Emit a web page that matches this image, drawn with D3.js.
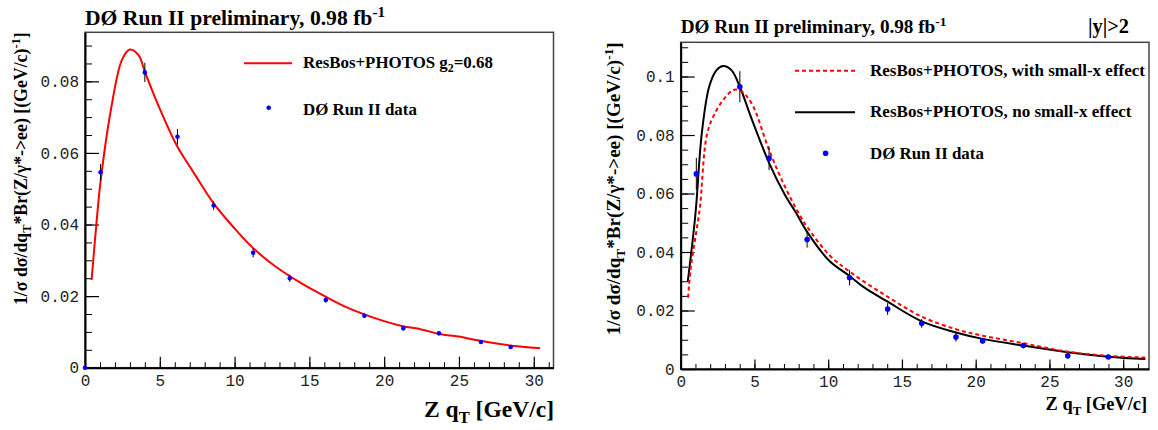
<!DOCTYPE html>
<html>
<head>
<meta charset="utf-8">
<script src="https://cdn.jsdelivr.net/npm/d3@7"></script>
<style>
  body { margin: 0; background: #fff; }
  svg { display: block; }
  .lbl { font-family: "Liberation Serif", "Times New Roman", serif; font-weight: bold; fill: #000; }
  .tick text { font-family: "Liberation Mono", "Courier New", monospace; fill: #222; }
</style>
</head>
<body>
<div id="chart"></div>
<script>
// ---- data ----
// left panel: inclusive qT
const leftX   = [0, 1.04, 4.0, 6.18, 8.6, 11.24, 13.69, 16.1, 18.68, 21.28, 23.66, 26.47, 28.46];
const leftY   = [0, 0.0546, 0.0825, 0.0645, 0.0453, 0.0321, 0.0250, 0.0189, 0.0145, 0.0110, 0.0096, 0.0072, 0.0058];
const leftErr = [0, 0.0023, 0.0027, 0.0022, 0.0012, 0.0013, 0.0010, 0.0007, 0.0006, 0.0005, 0.0005, 0.0004, 0.0004];

const resbosX = [0.44, 0.8, 1.04, 1.73, 2.47, 3.0, 3.58, 4.0, 4.94, 6.18, 7.16, 8.6, 10.0, 11.24, 12.6, 14.45, 16.1, 17.54, 20.0, 21.25, 22.48, 23.7, 24.95, 26.43, 28.43, 29.9, 30.43];
const resbosY = [0.0245, 0.042, 0.052, 0.072, 0.0860, 0.0889, 0.0873, 0.0827, 0.0729, 0.0617, 0.0552, 0.0459, 0.0389, 0.0334, 0.0287, 0.0236, 0.0198, 0.0168, 0.0130, 0.0116, 0.0107, 0.0094, 0.0087, 0.0075, 0.0062, 0.0056, 0.0054];

// right panel: |y|>2
const rightX   = [1.06, 4.01, 5.99, 8.57, 11.45, 14.03, 16.34, 18.66, 20.47, 23.23, 26.24, 28.99];
const rightY   = [0.0667, 0.0965, 0.0720, 0.0443, 0.0312, 0.0205, 0.0156, 0.0109, 0.0096, 0.0080, 0.0045, 0.0041];
const rightErr = [0.0055, 0.0053, 0.0040, 0.0028, 0.0026, 0.0020, 0.0015, 0.0015, 0.0010, 0.0008, 0.0008, 0.0006];

const smallxX = [0.5, 0.68, 1.06, 1.31, 1.8, 2.43, 3.06, 3.56, 4.06, 4.81, 5.99, 7.07, 8.07, 8.57, 10.07, 11.45, 14.03, 16.34, 18.66, 20.47, 23.23, 26.24, 28.99, 31.5];
const smallxY = [0.0244, 0.0345, 0.047, 0.0555, 0.0806, 0.0885, 0.0931, 0.0954, 0.0951, 0.0908, 0.0749, 0.0623, 0.0526, 0.0486, 0.0390, 0.0333, 0.0247, 0.0179, 0.0136, 0.0114, 0.0088, 0.0059, 0.0045, 0.0039];

const nosmallxX = [0.48, 1.0, 1.43, 1.93, 2.43, 2.88, 3.44, 4.01, 4.81, 5.99, 7.07, 7.82, 8.57, 10.07, 11.45, 12.46, 14.03, 16.34, 18.66, 20.47, 23.23, 26.24, 28.99, 31.5];
const nosmallxY = [0.0299, 0.053, 0.0806, 0.0965, 0.1022, 0.1036, 0.1022, 0.0965, 0.0855, 0.0705, 0.0595, 0.0534, 0.0469, 0.0370, 0.0318, 0.0278, 0.0230, 0.0163, 0.0125, 0.0103, 0.0080, 0.0057, 0.0042, 0.0034];

// ticks
const xTicks      = [0, 5, 10, 15, 20, 25, 30];
const leftYTicks  = [0, 0.02, 0.04, 0.06, 0.08];
const rightYTicks = [0, 0.02, 0.04, 0.06, 0.08, 0.1];

const zip = (xs, ys, es) => xs.map((x, i) => ({x: x, y: ys[i], e: es ? es[i] : 0}));

const svg = d3.select("#chart").append("svg")
  .attr("width", 1158)
  .attr("height", 430);

// shrink/grow a text so that it covers the given width
function fit(t, w) {
  const fs = parseFloat(t.attr("font-size"));
  const len = t.node().getComputedTextLength();
  t.attr("font-size", (fs * w / len).toFixed(2));
  return t;
}

// text with pieces: [string, "sub"|"sup"|"backsub"|"backsup"|undefined]
function richText(g, parts, size) {
  const t = g.append("text").attr("class", "lbl").attr("font-size", size);
  parts.forEach(p => {
    const s = t.append("tspan").text(p[0]);
    if (p[1] === "sub") s.attr("font-size", "0.7em").attr("dy", "0.35em");
    if (p[1] === "sup") s.attr("font-size", "0.7em").attr("dy", "-0.55em");
    if (p[1] === "backsub") s.attr("dy", "-0.245em");
    if (p[1] === "backsup") s.attr("dy", "0.385em");
  });
  return t;
}

function panel(p) {
  const x = d3.scaleLinear().domain([0, p.xMax]).range([p.left, p.right]);
  const y = d3.scaleLinear().domain([0, p.yMax]).range([p.bottom, p.top]);
  const g = svg.append("g");

  // frame
  g.append("rect")
    .attr("x", p.left).attr("y", p.top)
    .attr("width", p.right - p.left).attr("height", p.bottom - p.top)
    .attr("fill", "none").attr("stroke", "#444").attr("stroke-width", 1.5);

  const clipId = "clip" + p.id;
  svg.append("clipPath").attr("id", clipId).append("rect")
    .attr("x", p.left).attr("y", p.top)
    .attr("width", p.right - p.left).attr("height", p.bottom - p.top);

  // minor ticks
  const xMinor = d3.range(0, p.xMax, 1);
  const yMinor = d3.range(0, p.yMax, 0.005);
  g.append("g").attr("transform", `translate(0,${p.bottom})`)
    .call(d3.axisBottom(x).tickValues(xMinor).tickSize(-p.xMinorLen).tickFormat("").tickSizeOuter(0))
    .call(a => a.select(".domain").remove());
  g.append("g").attr("transform", `translate(${p.left},0)`)
    .call(d3.axisLeft(y).tickValues(yMinor).tickSize(-p.yMinorLen).tickFormat("").tickSizeOuter(0))
    .call(a => a.select(".domain").remove());

  // major ticks + labels
  const xa = g.append("g").attr("transform", `translate(0,${p.bottom})`)
    .call(d3.axisBottom(x).tickValues(xTicks).tickSize(-p.xMajorLen).tickPadding(p.xPad)
      .tickFormat(d3.format("d")).tickSizeOuter(0));
  const ya = g.append("g").attr("transform", `translate(${p.left},0)`)
    .call(d3.axisLeft(y).tickValues(p.yTicks).tickSize(-p.yMajorLen).tickPadding(6)
      .tickFormat(d => d === 0 ? "0" : String(+d.toFixed(2))).tickSizeOuter(0));
  [xa, ya].forEach(a => {
    a.selectAll(".tick text").attr("font-size", 16).attr("font-family", null);
    a.selectAll(".tick line").attr("stroke", "#000").attr("stroke-width", 1.2);
    a.select(".domain").attr("stroke", "#000").attr("stroke-width", 2);
  });
  xa.selectAll(".tick text").attr("dy", "0.82em");

  // curves
  const line = d3.line().x(d => x(d.x)).y(d => y(d.y)).curve(d3.curveCatmullRom.alpha(0.5));
  const cg = g.append("g").attr("clip-path", `url(#${clipId})`);
  p.curves.forEach(c => {
    cg.append("path")
      .datum(zip(c.xs, c.ys))
      .attr("fill", "none")
      .attr("stroke", c.color)
      .attr("stroke-width", 2)
      .attr("stroke-dasharray", c.dash || null)
      .attr("d", line);
  });

  // data points with error bars
  const pts = zip(p.dataX, p.dataY, p.dataErr);
  cg.selectAll("line.err").data(pts.filter(d => d.e > 0)).enter()
    .append("line").attr("class", "err")
    .attr("x1", d => x(d.x)).attr("x2", d => x(d.x))
    .attr("y1", d => y(d.y - d.e)).attr("y2", d => y(d.y + d.e))
    .attr("stroke", "#000").attr("stroke-width", 1);
  g.selectAll("circle.pt").data(pts).enter()
    .append("circle").attr("class", "pt")
    .attr("cx", d => x(d.x)).attr("cy", d => y(d.y))
    .attr("r", p.r).attr("fill", "#0000ff");

  // title
  const title = richText(g, [["DØ Run II preliminary, 0.98 fb"], ["-1", "sup"]], 18)
    .attr("x", p.left).attr("y", p.titleY);
  fit(title, p.titleW);

  // axis titles
  const xt = richText(g, [["Z q"], ["T", "sub"], [" [GeV/c]", "backsub"]], 20)
    .attr("text-anchor", "end").attr("x", p.xTitleEnd).attr("y", p.xTitleY);
  fit(xt, p.xTitleW);

  const yt = richText(g, [["1/σ dσ/dq"], ["T", "sub"], ["*Br(Z/γ*->ee) [(GeV/c)", "backsub"], ["-1", "sup"], ["]", "backsup"]], 18)
    .attr("text-anchor", "end")
    .attr("transform", `translate(${p.yTitleX},${p.top}) rotate(-90)`);
  fit(yt, p.yTitleW);

  // legend
  p.legend.forEach(l => {
    if (l.kind === "line") {
      g.append("line")
        .attr("x1", l.x1).attr("x2", l.x2).attr("y1", l.y).attr("y2", l.y)
        .attr("stroke", l.color).attr("stroke-width", 2)
        .attr("stroke-dasharray", l.dash || null);
    } else {
      g.append("circle").attr("cx", l.cx).attr("cy", l.y).attr("r", p.r).attr("fill", "#0000ff");
    }
    const t = richText(g, l.text, 16).attr("x", l.tx).attr("y", l.ty);
    fit(t, l.tw);
  });

  return g;
}

panel({
  id: "L", left: 85, right: 553.5, top: 32.3, bottom: 367.7,
  xMax: 31.32, yMax: 0.0937, yTicks: leftYTicks,
  xMajorLen: 11, xMinorLen: 5.5, yMajorLen: 14, yMinorLen: 7, xPad: 5,
  r: 2.3,
  dataX: leftX, dataY: leftY, dataErr: leftErr,
  curves: [{xs: resbosX, ys: resbosY, color: "#ff0000"}],
  titleY: 25, titleW: 300,
  xTitleEnd: 554, xTitleY: 417, xTitleW: 130,
  yTitleX: 27, yTitleW: 273,
  legend: [
    {kind: "line", x1: 244, x2: 292, y: 63.3, color: "#ff0000",
     text: [["ResBos+PHOTOS g"], ["2", "sub"], ["=0.68", "backsub"]], tx: 303, ty: 67.7, tw: 190},
    {kind: "dot", cx: 268.7, y: 107.7,
     text: [["DØ Run II data"]], tx: 303, ty: 115, tw: 114}
  ]
});

const R = panel({
  id: "R", left: 680.7, right: 1149, top: 42.3, bottom: 369,
  xMax: 31.75, yMax: 0.1117, yTicks: rightYTicks,
  xMajorLen: 9.5, xMinorLen: 5, yMajorLen: 14, yMinorLen: 7.5, xPad: 5,
  r: 2.8,
  dataX: rightX, dataY: rightY, dataErr: rightErr,
  curves: [
    {xs: nosmallxX, ys: nosmallxY, color: "#000"},
    {xs: smallxX, ys: smallxY, color: "#ff0000", dash: "4,3"}
  ],
  titleY: 33, titleW: 266,
  xTitleEnd: 1147, xTitleY: 410, xTitleW: 101.5,
  yTitleX: 620, yTitleW: 293,
  legend: [
    {kind: "line", x1: 795, x2: 855, y: 70.7, color: "#ff0000", dash: "4,3",
     text: [["ResBos+PHOTOS, with small-x effect"]], tx: 870, ty: 76, tw: 275},
    {kind: "line", x1: 795, x2: 855, y: 112.3, color: "#000",
     text: [["ResBos+PHOTOS, no small-x effect"]], tx: 870, ty: 117, tw: 261.6},
    {kind: "dot", cx: 825.6, y: 153.3,
     text: [["DØ Run II data"]], tx: 870, ty: 158.5, tw: 114}
  ]
});

const yy = R.append("text").attr("class", "lbl").attr("font-size", 16)
  .attr("text-anchor", "end").attr("x", 1129).attr("y", 33).text("|y|>2");
fit(yy, 41);
</script>
</body>
</html>
